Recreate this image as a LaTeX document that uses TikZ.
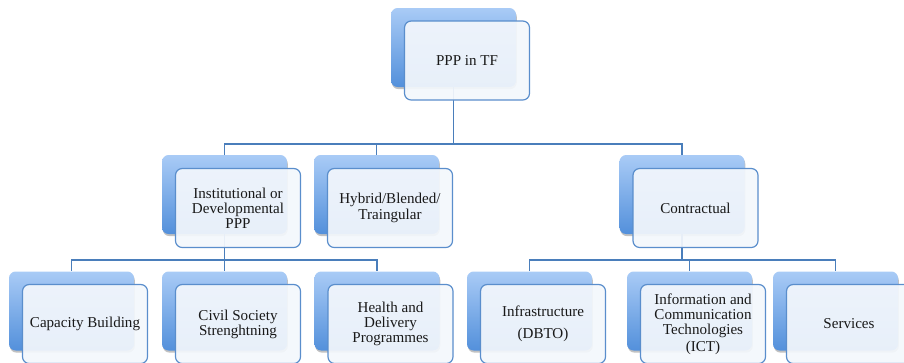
\documentclass[tikz,border=0pt]{standalone}
\usepackage{fontspec}
\setmainfont{Liberation Serif}
\usetikzlibrary{shadows}
\definecolor{backtop}{HTML}{A9CBF6}
\definecolor{backbot}{HTML}{5390DB}
\definecolor{frontfill}{HTML}{F3F7FC}
\definecolor{frontline}{HTML}{5A8ECC}
\definecolor{conn}{HTML}{4A7EBB}
\tikzset{
  backbox/.style={rectangle, rounded corners=5pt, minimum width=93.75pt, minimum height=59.25pt,
    inner sep=0pt, top color=backtop, bottom color=backbot, draw=none,
    drop shadow={shadow xshift=0.6pt, shadow yshift=-1.6pt, opacity=0.35, fill=black!70}},
  frontbox/.style={rectangle, rounded corners=5pt, minimum width=93.75pt, minimum height=59.25pt,
    inner sep=2pt, draw=frontline, line width=0.9pt, fill=frontfill, fill opacity=0.93,
    text opacity=1, align=center, font=\fontsize{11.3}{11.4}\selectfont, text=black!90},
  connector/.style={draw=conn, line width=1.1pt}
}
\begin{document}
\begin{tikzpicture}[x=0.75pt,y=-0.75pt]
\useasboundingbox (0,0) rectangle (904,362);
% back boxes
\node[backbox] (t0b) at (453.5,47.5) {};
\node[backbox] (inb) at (224.5,194.5) {};
\node[backbox] (hyb) at (376.5,194.5) {};
\node[backbox] (cob) at (682,194.5) {};
\node[backbox] (cab) at (71.5,311) {};
\node[backbox] (cib) at (224.5,311) {};
\node[backbox] (heb) at (377,311) {};
\node[backbox] (ifb) at (529.5,311) {};
\node[backbox] (icb) at (689.5,311) {};
\node[backbox] (seb) at (835.5,311) {};
% bus coordinates
\coordinate (bus1) at (0,144);
\coordinate (bus2) at (0,260);
% connectors
\draw[connector] (t0b.south) -- (t0b.south |- bus1) -| (inb.north);
\draw[connector] (t0b.south |- bus1) -| (hyb.north);
\draw[connector] (t0b.south |- bus1) -| (cob.north);
\draw[connector] (inb.south) -- (inb.south |- bus2) -| (cab.north);
\draw[connector] (inb.south |- bus2) -| (cib.north);
\draw[connector] (inb.south |- bus2) -| (heb.north);
\draw[connector] (cob.south) -- (cob.south |- bus2) -| (ifb.north);
\draw[connector] (cob.south |- bus2) -| (icb.north);
\draw[connector] (cob.south |- bus2) -| (seb.north);
% front boxes
\node[frontbox] (t0) at (467,60.5) {PPP in TF};
\node[frontbox] (in) at (238,208) {Institutional or\\Developmental\\PPP};
\node[frontbox] (hy) at (390,208) {Hybrid/Blended/\\[1pt]Traingular};
\node[frontbox] (co) at (695.5,208) {Contractual};
\node[frontbox] (ca) at (85,324) {Capacity Building};
\node[frontbox] (ci) at (238,324) {Civil Society\\Strenghtning};
\node[frontbox] (he) at (390.5,324) {Health and\\Delivery\\Programmes};
\node[frontbox] (if) at (543,324) {Infrastructure\\[5pt](DBTO)};
\node[frontbox] (ic) at (703,324) {Information and\\Communication\\Technologies\\[1pt](ICT)};
\node[frontbox] (se) at (849,324) {Services};
\end{tikzpicture}
\end{document}
